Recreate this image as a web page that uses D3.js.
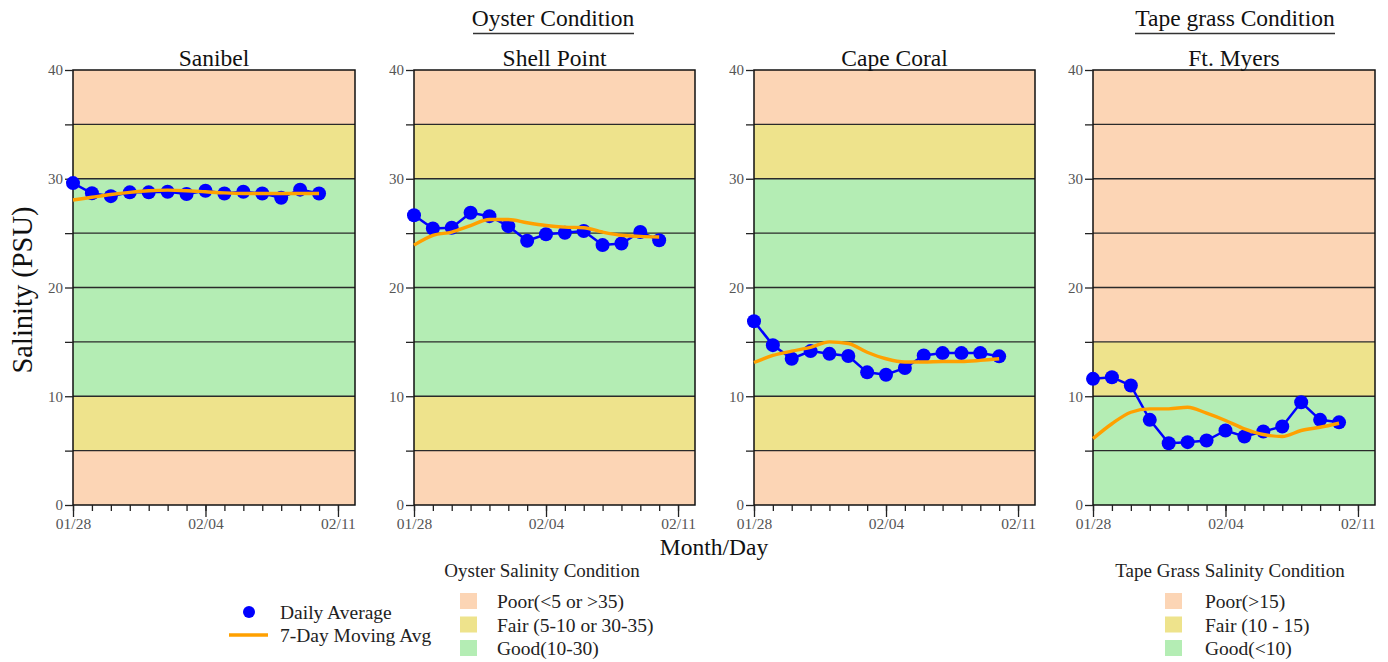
<!DOCTYPE html>
<html><head><meta charset="utf-8">
<script src="https://cdn.jsdelivr.net/npm/d3@7"></script>
<style>body{margin:0;background:#fff;} text{font-family:"Liberation Serif","Times New Roman",serif;}</style>
</head><body><svg id="c" width="1388" height="662"></svg>
<script>
const days = ["01/28","01/29","01/30","01/31","02/01","02/02","02/03","02/04","02/05","02/06","02/07","02/08","02/09","02/10"];
const xTickLabels = ["01/28","02/04","02/11"];
const yTicks = [0,10,20,30,40];
const stations = ["Sanibel","Shell Point","Cape Coral","Ft. Myers"];
const sanibelDaily = [29.6,28.66,28.4,28.75,28.75,28.8,28.6,28.9,28.65,28.8,28.65,28.25,29.0,28.65];
const sanibelMA = [28.05,28.3,28.55,28.75,28.9,28.95,28.9,28.8,28.7,28.65,28.65,28.65,28.65,28.65];
const shellDaily = [26.65,25.43,25.5,26.87,26.56,25.64,24.3,24.9,25.03,25.2,23.9,24.05,25.1,24.35];
const shellMA = [23.9,24.8,25.1,25.7,26.25,26.25,25.95,25.7,25.55,25.5,25.1,24.8,24.7,24.65];
const capeDaily = [16.9,14.7,13.45,14.15,13.9,13.7,12.2,11.98,12.6,13.75,13.97,13.97,13.97,13.67];
const capeMA = [13.1,13.75,14.15,14.5,15.0,14.85,14.05,13.45,13.15,13.15,13.2,13.2,13.3,13.45];
const ftDaily = [11.6,11.75,10.99,7.83,5.68,5.78,5.93,6.85,6.3,6.76,7.22,9.45,7.83,7.6];
const ftMA = [6.1,7.47,8.53,8.84,8.84,8.99,8.44,7.77,7.0,6.48,6.3,6.85,7.15,7.52];
const oysterBands = [[0,5,"poor"],[5,10,"fair"],[10,30,"good"],[30,35,"fair"],[35,40,"poor"]];
const tapeBands = [[0,10,"good"],[10,15,"fair"],[15,40,"poor"]];
const oysterLegend = ["Poor(<5 or >35)","Fair (5-10 or 30-35)","Good(10-30)"];
const tapeLegend = ["Poor(>15)","Fair (10 - 15)","Good(<10)"];

const colors = {poor:"#FCD5B5", fair:"#EEE38C", good:"#B4EDB4"};
const svg = d3.select("#c");
const parse = d3.utcParse("%Y/%m/%d");
const dates = days.map(d => parse("2021/" + d));
const panels = [
  {name:stations[0], x0:73, x1:355, daily:sanibelDaily, ma:sanibelMA, bands:oysterBands},
  {name:stations[1], x0:414, x1:695, daily:shellDaily, ma:shellMA, bands:oysterBands},
  {name:stations[2], x0:754, x1:1035, daily:capeDaily, ma:capeMA, bands:oysterBands},
  {name:stations[3], x0:1093, x1:1375, daily:ftDaily, ma:ftMA, bands:tapeBands}
];
const yTop = 70, yBot = 505;
const y = d3.scaleLinear().domain([0,40]).range([yBot,yTop]);
const dStart = parse("2021/01/28");
const dEnd = new Date(parse("2021/02/11").getTime() + 0.9*86400000);

panels.forEach(p => {
  const x = d3.scaleUtc().domain([dStart,dEnd]).range([p.x0,p.x1]);
  const g = svg.append("g");
  g.selectAll("rect.band").data(p.bands).join("rect")
    .attr("x",p.x0).attr("width",p.x1-p.x0)
    .attr("y",d=>y(d[1])).attr("height",d=>y(d[0])-y(d[1]))
    .attr("fill",d=>colors[d[2]]);
  g.selectAll("line.grid").data(d3.range(5,40,5)).join("line")
    .attr("x1",p.x0).attr("x2",p.x1).attr("y1",d=>y(d)).attr("y2",d=>y(d))
    .attr("stroke","#2a2a2a").attr("stroke-width",1.3);
  g.append("rect").attr("x",p.x0).attr("y",yTop).attr("width",p.x1-p.x0).attr("height",yBot-yTop)
    .attr("fill","none").attr("stroke","#111").attr("stroke-width",1.5);
  const ya = g.append("g").attr("transform",`translate(${p.x0},0)`)
    .call(d3.axisLeft(y).tickValues(d3.range(0,41,5)).tickSize(8).tickPadding(2).tickFormat(d=> yTicks.includes(d)? d3.format("d")(d):""));
  ya.select(".domain").remove();
  ya.selectAll("line").attr("stroke","#222").attr("stroke-width",1.3);
  ya.selectAll("text").attr("font-size",15).attr("fill","#555").attr("font-family","Liberation Serif");
  const xa = g.append("g").attr("transform",`translate(0,${yBot})`)
    .call(d3.axisBottom(x).ticks(d3.utcDay.every(1)).tickSize(6).tickFormat(""));
  xa.select(".domain").remove();
  xa.selectAll("line").attr("stroke","#222").attr("stroke-width",1.3);
  const majors = xTickLabels.map(s=>parse("2021/"+s));
  const xm = g.append("g").attr("transform",`translate(0,${yBot})`)
    .call(d3.axisBottom(x).tickValues(majors).tickSize(12).tickPadding(1).tickFormat(d3.utcFormat("%m/%d")));
  xm.select(".domain").remove();
  xm.selectAll("line").attr("stroke","#222").attr("stroke-width",1.3);
  xm.selectAll("text").attr("font-size",15.5).attr("fill","#555").attr("font-family","Liberation Serif");
  const dailyData = dates.map((d,i)=>({d, v:p.daily[i]}));
  const maData = dates.map((d,i)=>({d, v:p.ma[i]}));
  g.append("path").datum(dailyData)
    .attr("d", d3.line().x(d=>x(d.d)).y(d=>y(d.v)))
    .attr("fill","none").attr("stroke","#0000FF").attr("stroke-width",2.5);
  g.selectAll("circle").data(dailyData).join("circle")
    .attr("cx",d=>x(d.d)).attr("cy",d=>y(d.v)).attr("r",7).attr("fill","#0000FF");
  g.append("path").datum(maData)
    .attr("d", d3.line().curve(d3.curveMonotoneX).x(d=>x(d.d)).y(d=>y(d.v)))
    .attr("fill","none").attr("stroke","#FFA000").attr("stroke-width",3.4);
  svg.append("text").attr("x",(p.x0+p.x1)/2).attr("y",66).attr("text-anchor","middle")
    .attr("font-size",23.5).attr("fill","#111").text(p.name);
});

function header(txt, cx, x1, x2){
  svg.append("text").attr("x",cx).attr("y",26).attr("text-anchor","middle").attr("font-size",23.5).attr("fill","#111").text(txt);
  svg.append("line").attr("x1",x1).attr("x2",x2).attr("y1",33.5).attr("y2",33.5).attr("stroke","#333").attr("stroke-width",1.3);
}
header("Oyster Condition", 553, 473, 634);
header("Tape grass Condition", 1235, 1135, 1335);

svg.append("text").attr("transform","translate(32,290) rotate(-90)").attr("text-anchor","middle")
  .attr("font-size",28.5).attr("fill","#111").text("Salinity (PSU)");
svg.append("text").attr("x",714).attr("y",555).attr("text-anchor","middle").attr("font-size",23.5).attr("fill","#111").text("Month/Day");

svg.append("circle").attr("cx",249).attr("cy",612).attr("r",6).attr("fill","#0000FF");
svg.append("text").attr("x",280).attr("y",619).attr("font-size",19.5).attr("fill","#222").text("Daily Average");
svg.append("line").attr("x1",229).attr("x2",268).attr("y1",635).attr("y2",635).attr("stroke","#FFA000").attr("stroke-width",3.5);
svg.append("text").attr("x",280).attr("y",642).attr("font-size",19.5).attr("fill","#222").text("7-Day Moving Avg");

function condLegend(title, cx, sx, tx, labels){
  svg.append("text").attr("x",cx).attr("y",577).attr("text-anchor","middle").attr("font-size",19).attr("fill","#222").text(title);
  const keys = ["poor","fair","good"];
  labels.forEach((l,i)=>{
    svg.append("rect").attr("x",sx).attr("y",593+i*23.5).attr("width",17).attr("height",16).attr("fill",colors[keys[i]]);
    svg.append("text").attr("x",tx).attr("y",608+i*23.5).attr("font-size",19.5).attr("fill","#222").text(l);
  });
}
condLegend("Oyster Salinity Condition", 542, 460, 497, oysterLegend);
condLegend("Tape Grass Salinity Condition", 1230, 1165, 1205, tapeLegend);
</script></body></html>
